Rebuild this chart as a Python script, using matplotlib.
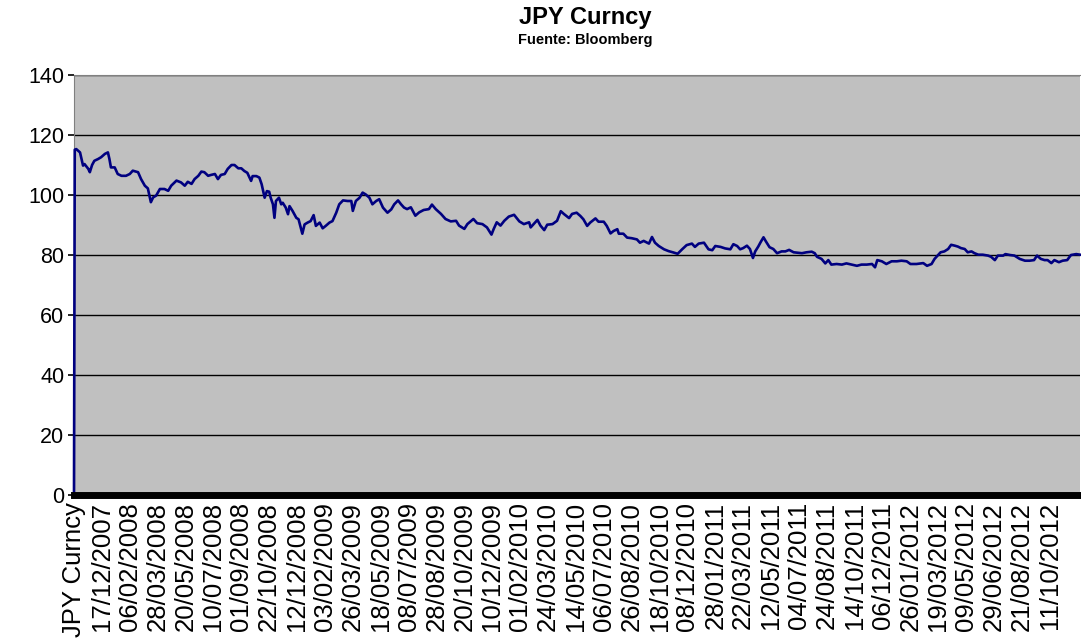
#Grafica del yen japones (JPY Curncy), datos diarios Bloomberg
#Los valores se leyeron de la grafica original, dia = numero de dia habil de la serie

import numpy as np
import matplotlib.pyplot as plt

#Etiquetas del eje x (una cada 37 dias habiles)
etiquetas = ['JPY Curncy', '17/12/2007', '06/02/2008', '28/03/2008', '20/05/2008',
             '10/07/2008', '01/09/2008', '22/10/2008', '12/12/2008', '03/02/2009',
             '26/03/2009', '18/05/2009', '08/07/2009', '28/08/2009', '20/10/2009',
             '10/12/2009', '01/02/2010', '24/03/2010', '14/05/2010', '06/07/2010',
             '26/08/2010', '18/10/2010', '08/12/2010', '28/01/2011', '22/03/2011',
             '12/05/2011', '04/07/2011', '24/08/2011', '14/10/2011', '06/12/2011',
             '26/01/2012', '19/03/2012', '09/05/2012', '29/06/2012', '21/08/2012',
             '11/10/2012']
paso = 37

#Dia habil de cada lectura
dias = [0, 1, 3, 8, 12, 14, 19, 21, 24, 27, 32, 36, 41, 45, 47, 49, 54, 58, 63, 69,
        74, 78, 85, 89, 94, 98, 102, 105, 109, 114, 120, 125, 129, 136, 142, 147, 151,
        156, 160, 165, 169, 173, 178, 182, 187, 191, 195, 200, 204, 209, 213, 218,
        222, 226, 230, 235, 237, 242, 246, 249, 253, 256, 259, 261, 264, 266, 268, 272,
        275, 277, 281, 284, 286, 290, 295, 298, 301, 303, 306, 310, 314, 318, 321, 326,
        330, 334, 339, 343, 348, 352, 357, 363, 368, 370, 374, 379, 383, 387, 392, 396,
        401, 405, 410, 416, 421, 425, 430, 434, 438,
        442, 447, 453, 458, 464, 471, 475, 480, 487, 493, 500, 507, 511, 518, 522, 530,
        535, 542, 548, 554, 557, 561, 566, 571, 577, 584, 591, 597, 604, 606, 610, 615,
        619, 624, 628, 635, 641, 646, 650, 657, 661,
        667, 672, 676, 681, 685, 692, 696, 703, 707, 712, 716, 721, 723, 729, 734, 740,
        747, 751, 756, 763, 767, 771, 776, 783, 789, 796, 801, 807, 813, 820, 824, 829,
        836, 842, 847, 851, 858, 864, 871, 875, 880, 884,
        888, 893, 897, 901, 904, 908, 911, 915, 918, 923, 928, 933, 939, 944, 949, 955,
        959, 966, 972, 979, 983, 986, 992, 997, 1001, 1005, 1012, 1019, 1025, 1032,
        1039, 1045, 1052, 1059, 1063, 1066, 1072, 1078, 1085, 1092, 1098, 1105,
        1110, 1118, 1127, 1132, 1138, 1142, 1146, 1150, 1155, 1160, 1164, 1169, 1173,
        1177, 1182, 1186, 1191, 1195, 1200, 1206, 1213, 1217, 1222, 1226, 1233, 1236,
        1242, 1248, 1255, 1262, 1268, 1274, 1278, 1283, 1288, 1292, 1297, 1301, 1307,
        1312, 1318, 1323, 1330, 1335]

#Valor JPY por dolar (el primer valor es la celda de texto, Excel la toma como 0)
jpy = [0, 115.1, 115.3, 114.2, 109.8, 110.3, 108.7, 107.6, 110, 111.4, 112, 112.6,
       113.7, 114.2, 112, 109.2, 109.2, 107, 106.4, 106.4, 107, 108.1, 107.6, 105.3,
       103.1, 102.2, 97.6, 99.2, 99.8, 102, 102, 101.4, 103.1, 104.8, 104.2, 103.1,
       104.4, 103.7, 105.3, 106.4, 107.8, 107.6, 106.4, 106.7, 107, 105.3, 106.7, 107,
       108.7, 110, 110, 108.9,
       108.9, 108, 107.4, 104.7, 106.3, 106.3, 105.8, 103.6, 99.1, 101.3, 101.1, 99.1,
       96.9, 92.4, 98, 99.1, 96.9, 97.4, 95.8, 93.6, 96.3, 94.7, 92.4, 91.9, 89.1, 87.1,
       90.2, 90.8, 91.3, 93.3, 89.7, 90.8, 88.9, 89.7, 90.8, 91.3, 94.1, 96.9, 98.2, 98,
       98, 94.7, 98, 99.1, 100.8, 100.2, 99.1, 96.9, 98, 98.6, 95.8, 94.1, 95.2, 96.9,
       98.2, 96.9, 95.8,
       95.3, 95.9, 93.1, 94.2, 95, 95.3, 96.8, 95.3, 93.7, 92, 91.2, 91.4, 89.8, 88.7,
       90.3, 92, 90.6, 90.3, 89.2, 86.8, 88.7, 90.9, 89.8, 91.4, 92.8, 93.4, 91.2, 90.3,
       90.9, 89.2, 90.3, 91.7, 89.8, 88.3, 90.1, 90.3, 91.4, 94.6, 93.7, 92.3, 93.7,
       94.1, 93, 91.9, 89.7, 90.8, 92.2, 91.1, 91.1, 89.7, 87.2, 88, 88.6, 87.1, 87.1,
       85.8, 85.6, 85.2, 84.1, 84.7, 83.8, 86, 84.1, 83, 81.9, 81.3, 80.8, 80.4, 81.9,
       83.3, 83.8, 82.7, 83.8, 84.1, 81.9, 81.6, 83, 82.7, 82.2, 81.9, 83.6, 83, 81.9,
       82.3, 83.1, 82, 79, 81.2, 82.8, 84.2, 85.9, 84.6, 82.6, 82, 80.6, 81.2, 81.2,
       81.7, 80.9, 80.8, 80.6, 80.9, 81.1, 80.6, 79.4, 78.7, 77.2, 78.3, 76.8, 77, 76.8,
       77.2, 76.8, 76.4, 76.8, 76.8, 77, 75.9, 78.3, 77.9, 77, 77.9, 77.9, 78.1, 77.9,
       77, 77, 77.3, 76.4, 77, 78.7, 79.8, 80.9, 81.2, 82, 83.4, 83.1, 82.8, 82.3, 82,
       80.9, 81.2, 80.6, 80.1, 80.1, 79.8, 79.4, 78.3, 79.8, 79.8, 80.3, 80, 79.8, 78.7,
       78.1, 78.1, 78.3, 79.8, 78.7, 78.3, 78.3, 77.3, 78.3, 77.6, 78.1, 78.3, 80, 80.3,
       80.1]

plt.rcParams['font.family'] = ['Liberation Sans', 'DejaVu Sans']

fig = plt.figure(figsize=(10.81, 6.41), dpi=100)
ax = fig.add_axes([74/1081, 146/641, 1006/1081, 420/641])
ax.set_facecolor('#c0c0c0')

#la linea va encima de los bordes para que se vea el salto desde 0
ax.plot(dias, jpy, color='#000080', lw=1.9, zorder=3, clip_on=False)

ax.set_xlim(0, dias[-1])
ax.set_ylim(0, 140)
ax.set_yticks(np.arange(0, 141, 20))
ax.yaxis.grid(True, color='black', lw=1)
ax.set_axisbelow(True)

ax.set_xticks(np.arange(len(etiquetas))*paso)
ax.set_xticklabels(etiquetas, rotation=90, fontsize=18.5)
ax.tick_params(axis='x', length=0, pad=5)
ax.tick_params(axis='y', labelsize=15.5, length=4, width=1.2, pad=3)

ax.spines['top'].set_color('#808080')
ax.spines['left'].set_color('#808080')
ax.spines['right'].set_visible(False)
ax.spines['bottom'].set_color('black')
ax.spines['bottom'].set_linewidth(5)
ax.spines['bottom'].set_zorder(4)

fig.text(0.541, 0.972, 'JPY Curncy', ha='center', va='center', fontsize=17, fontweight='bold')
fig.text(0.541, 0.938, 'Fuente: Bloomberg', ha='center', va='center', fontsize=10.5, fontweight='bold')

plt.savefig('out.png', dpi=100)
